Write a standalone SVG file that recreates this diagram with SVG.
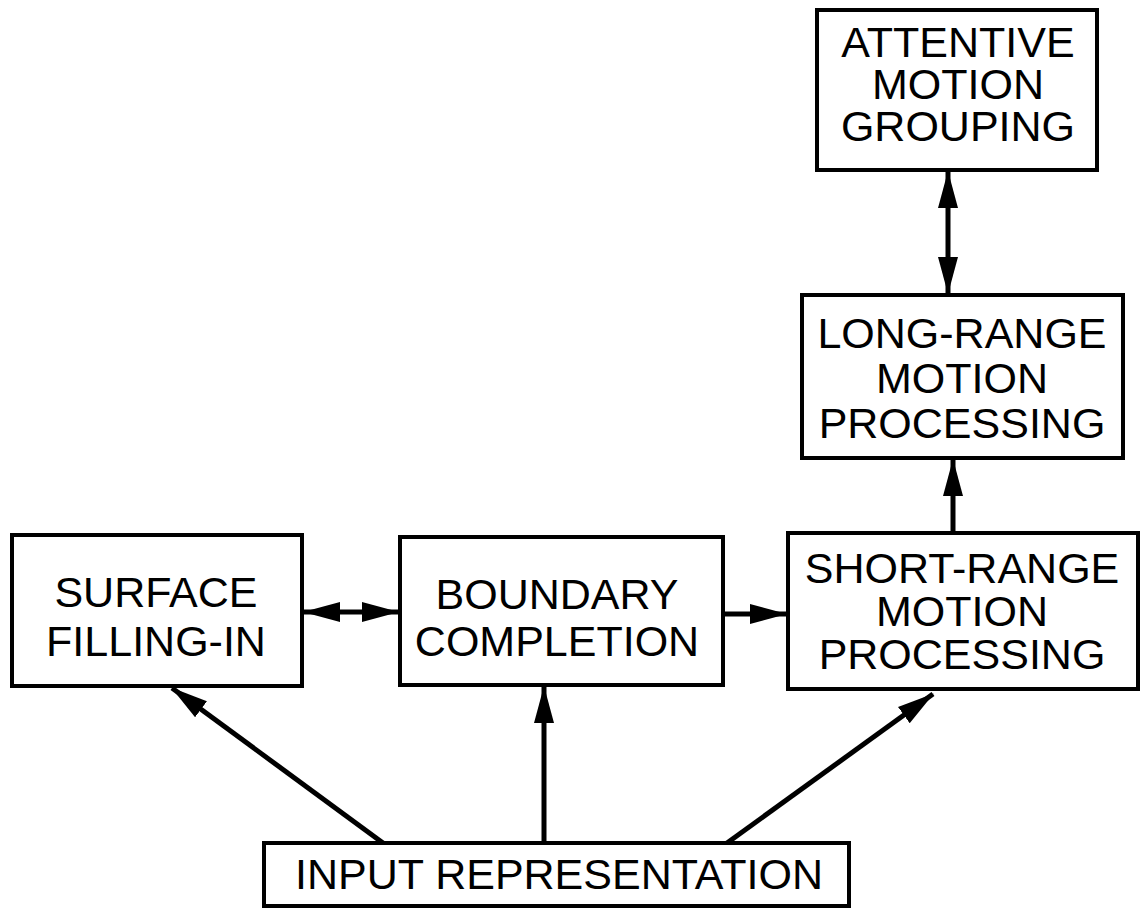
<svg xmlns="http://www.w3.org/2000/svg" width="1142" height="909" viewBox="0 0 1142 909">
  <defs>
    <style>
      .box { fill: #ffffff; stroke: #000000; stroke-width: 4; }
      .lbl { font-family: "Liberation Sans", Arial, Helvetica, sans-serif; font-size: 43px; fill: #000000; text-anchor: middle; }
      .edge { stroke: #000000; stroke-width: 5; fill: none; }
    </style>
    <marker id="ah" markerUnits="userSpaceOnUse" markerWidth="38" markerHeight="22" viewBox="0 0 38 22" refX="36" refY="11" orient="auto-start-reverse">
      <path d="M0,1 L37,11 L0,21 z" fill="#000000"/>
    </marker>
  </defs>
  <rect width="1142" height="909" fill="#ffffff"/>

  <g id="connectors">
    <line class="edge" x1="948" y1="172" x2="948" y2="293" marker-start="url(#ah)" marker-end="url(#ah)"/>
    <line class="edge" x1="953" y1="533" x2="953" y2="460" marker-end="url(#ah)"/>
    <line class="edge" x1="304" y1="612" x2="398" y2="612" marker-start="url(#ah)" marker-end="url(#ah)"/>
    <line class="edge" x1="725" y1="614" x2="786" y2="614" marker-end="url(#ah)"/>
    <line class="edge" x1="383" y1="843" x2="172" y2="688" stroke-width="6" marker-end="url(#ah)"/>
    <line class="edge" x1="544" y1="843" x2="544" y2="687" marker-end="url(#ah)"/>
    <line class="edge" x1="727" y1="843" x2="933" y2="694" stroke-width="6" marker-end="url(#ah)"/>
  </g>

  <g id="attentive">
    <rect class="box" x="817" y="10" width="280" height="160"/>
    <text class="lbl" x="958" y="57">ATTENTIVE</text>
    <text class="lbl" x="958" y="99">MOTION</text>
    <text class="lbl" x="958" y="141">GROUPING</text>
  </g>

  <g id="long-range">
    <rect class="box" x="802" y="295" width="321" height="163"/>
    <text class="lbl" x="962" y="348">LONG-RANGE</text>
    <text class="lbl" x="962" y="393">MOTION</text>
    <text class="lbl" x="962" y="438">PROCESSING</text>
  </g>

  <g id="short-range">
    <rect class="box" x="788" y="533" width="350" height="156"/>
    <text class="lbl" x="962" y="583">SHORT-RANGE</text>
    <text class="lbl" x="962" y="626">MOTION</text>
    <text class="lbl" x="962" y="669">PROCESSING</text>
  </g>

  <g id="boundary">
    <rect class="box" x="400" y="537" width="323" height="148"/>
    <text class="lbl" x="557" y="609">BOUNDARY</text>
    <text class="lbl" x="557" y="656">COMPLETION</text>
  </g>

  <g id="surface">
    <rect class="box" x="12" y="535" width="290" height="151"/>
    <text class="lbl" x="156" y="607">SURFACE</text>
    <text class="lbl" x="156" y="656">FILLING-IN</text>
  </g>

  <g id="input">
    <rect class="box" x="264" y="843" width="585" height="63"/>
    <text class="lbl" x="559" y="889">INPUT REPRESENTATION</text>
  </g>
</svg>
